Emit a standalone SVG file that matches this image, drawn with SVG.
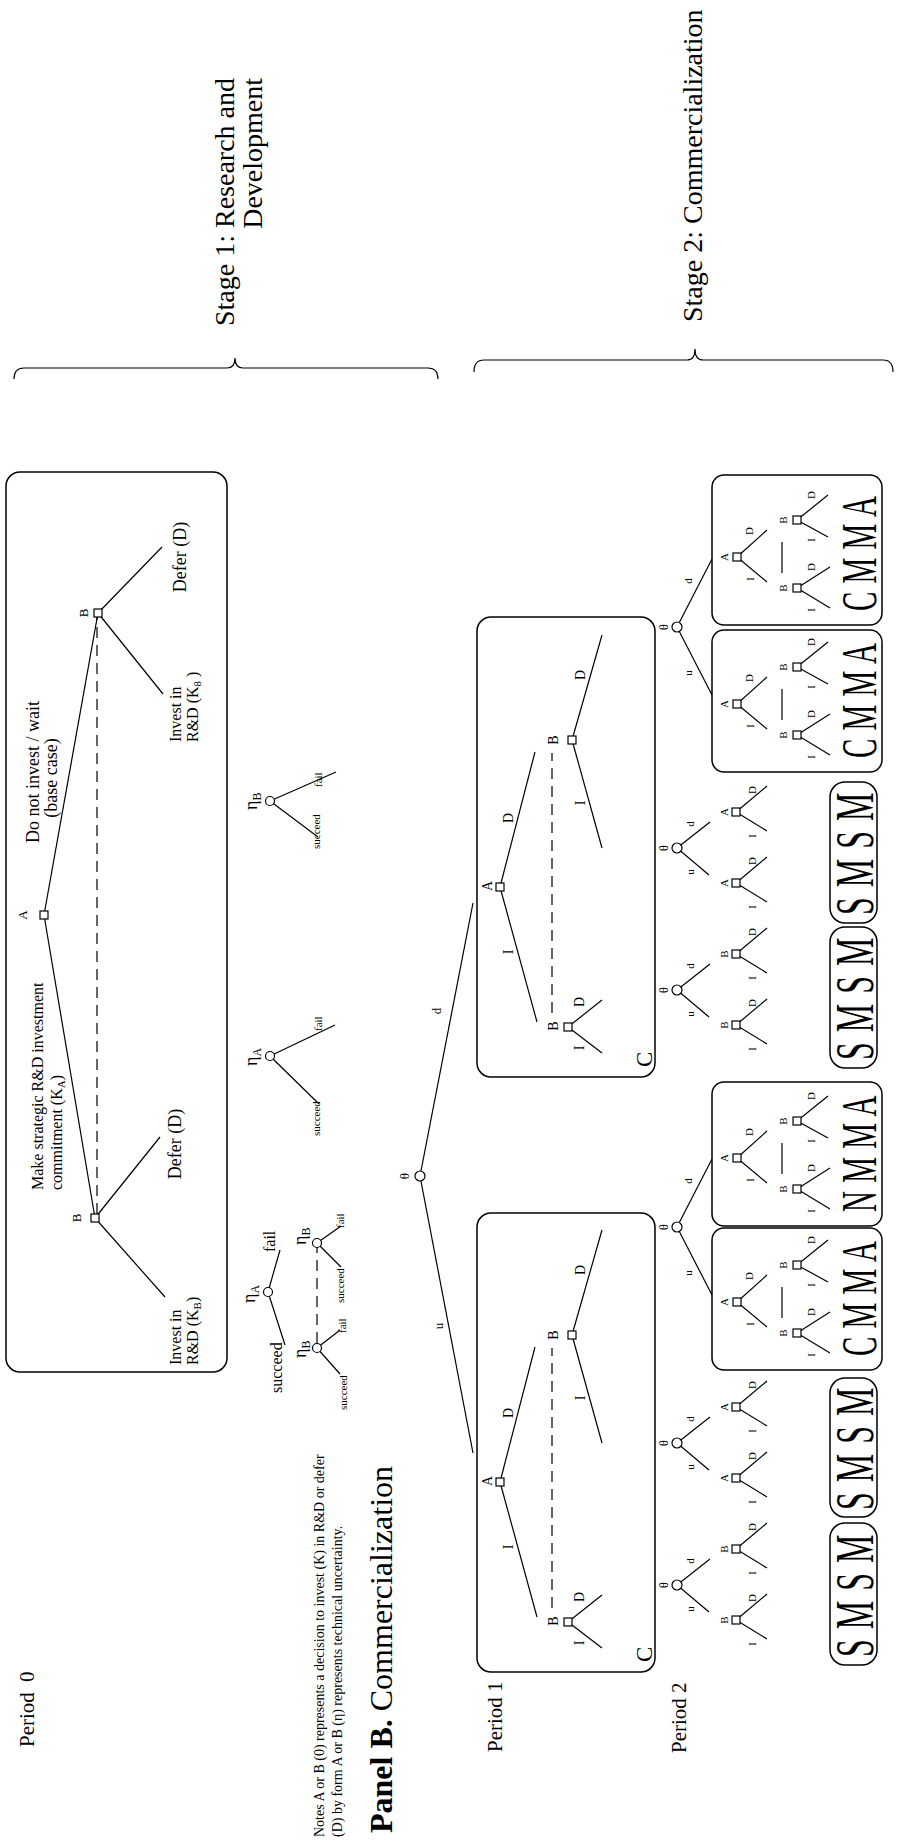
<svg xmlns="http://www.w3.org/2000/svg" width="897" height="1848" viewBox="0 0 897 1848">
<style>
text{font-family:"Liberation Serif","Times New Roman",serif;fill:#000}
.ln{stroke:#000;stroke-width:1.2;fill:none}
.dsh{stroke:#000;stroke-width:1.2;stroke-dasharray:11 7;fill:none}
.box{fill:none;stroke:#000;stroke-width:1.5}
.nd{fill:#fff;stroke:#000;stroke-width:1.2}
.m{text-anchor:middle}
.t11{font-size:11px}
.t12{font-size:12px}
.t13{font-size:13px}
.t14{font-size:14px}
.t16{font-size:16px}
.t18{font-size:18px}
.big{font-size:29px;letter-spacing:0.5px}
.sms{font-size:32px;letter-spacing:1px}
</style>
<defs>
<rect id="sq" x="-4" y="-4" width="8" height="8" class="nd"/>
<circle id="ci" r="4.5" class="nd"/>
<circle id="cs" r="5" class="nd"/>
</defs>
<rect width="897" height="1848" fill="#fff"/>
<g transform="translate(0,1848) rotate(-90)">

<g id="headers">
<text x="1770" y="234" font-size="28" text-anchor="end">Stage 1: Research and</text>
<text x="1770" y="262" font-size="28" text-anchor="end">Development</text>
<text x="1526" y="702" font-size="28">Stage 2: Commercialization</text>
<path class="ln" d="M1469,14 Q1480,14 1480,24 L1480,227 Q1480,235 1490,235 Q1480,235 1480,243 L1480,428 Q1480,438 1469,438"/>
<path class="ln" d="M1476,474 Q1488,474 1488,484 L1488,687 Q1488,695 1499,695 Q1488,695 1488,703 L1488,883 Q1488,893 1476,893"/>
<text x="101" y="34" font-size="21">Period <tspan dx="5">0</tspan></text>
<text x="96" y="502" font-size="21">Period 1</text>
<text x="95" y="686" font-size="21">Period 2</text>
<text x="11" y="324" class="t14">Notes A or B (0) represents a decision to invest (K) in R&amp;D or defer</text>
<text x="11" y="342" class="t14">(D) by form A or B (η) represents technical uncertainty.</text>
<text x="15" y="392" font-size="32"><tspan font-weight="bold">Panel B.</tspan> Commercialization</text>
</g>

<g id="connectors">
<line class="ln" x1="933" y1="44" x2="1235" y2="98"/>
<line class="ln" x1="933" y1="44" x2="630" y2="95"/>
<line class="ln" x1="1235" y1="98" x2="1301" y2="162"/>
<line class="ln" x1="1235" y1="98" x2="1154" y2="163"/>
<line class="ln" x1="630" y1="95" x2="711" y2="160"/>
<line class="ln" x1="630" y1="95" x2="551" y2="165"/>
<line class="dsh" x1="634" y1="97" x2="1231" y2="97"/>

<line class="ln" x1="556" y1="268" x2="503" y2="285"/>
<line class="ln" x1="556" y1="268" x2="598" y2="280"/>
<line class="ln" x1="500" y1="317" x2="474" y2="340"/>
<line class="ln" x1="500" y1="317" x2="518" y2="340"/>
<line class="ln" x1="605" y1="317" x2="581" y2="341"/>
<line class="ln" x1="605" y1="317" x2="622" y2="341"/>
<line class="dsh" x1="505" y1="317" x2="600" y2="317"/>
<line class="ln" x1="792" y1="270" x2="744" y2="319"/>
<line class="ln" x1="792" y1="270" x2="823" y2="335"/>
<line class="ln" x1="1047" y1="270" x2="1011" y2="318"/>
<line class="ln" x1="1047" y1="270" x2="1076" y2="336"/>

<line class="ln" x1="672" y1="420" x2="395" y2="473"/>
<line class="ln" x1="672" y1="420" x2="945" y2="473"/>

<line class="ln" x1="366" y1="500" x2="231" y2="537"/>
<line class="ln" x1="366" y1="500" x2="501" y2="535"/>
<line class="ln" x1="513" y1="572" x2="618" y2="602"/>
<line class="ln" x1="513" y1="572" x2="405" y2="602"/>
<line class="ln" x1="226" y1="568" x2="253" y2="602"/>
<line class="ln" x1="226" y1="568" x2="200" y2="602"/>
<line class="dsh" x1="240" y1="552" x2="500" y2="552"/>
<line class="ln" x1="961" y1="500" x2="826" y2="537"/>
<line class="ln" x1="961" y1="500" x2="1096" y2="535"/>
<line class="ln" x1="1108" y1="572" x2="1213" y2="602"/>
<line class="ln" x1="1108" y1="572" x2="1000" y2="602"/>
<line class="ln" x1="821" y1="568" x2="848" y2="602"/>
<line class="ln" x1="821" y1="568" x2="795" y2="602"/>
<line class="dsh" x1="835" y1="552" x2="1095" y2="552"/>

<line class="ln" x1="263" y1="677" x2="236" y2="709"/>
<line class="ln" x1="263" y1="677" x2="289" y2="710"/>
<line class="ln" x1="228" y1="736" x2="209" y2="767"/>
<line class="ln" x1="228" y1="736" x2="254" y2="767"/>
<line class="ln" x1="299" y1="736" x2="280" y2="767"/>
<line class="ln" x1="299" y1="736" x2="325" y2="767"/>
<line class="ln" x1="405" y1="677" x2="378" y2="709"/>
<line class="ln" x1="405" y1="677" x2="431" y2="710"/>
<line class="ln" x1="370" y1="736" x2="351" y2="767"/>
<line class="ln" x1="370" y1="736" x2="396" y2="767"/>
<line class="ln" x1="441" y1="736" x2="422" y2="767"/>
<line class="ln" x1="441" y1="736" x2="467" y2="767"/>
<line class="ln" x1="858" y1="677" x2="831" y2="709"/>
<line class="ln" x1="858" y1="677" x2="884" y2="710"/>
<line class="ln" x1="823" y1="736" x2="804" y2="767"/>
<line class="ln" x1="823" y1="736" x2="849" y2="767"/>
<line class="ln" x1="894" y1="736" x2="875" y2="767"/>
<line class="ln" x1="894" y1="736" x2="920" y2="767"/>
<line class="ln" x1="1000" y1="677" x2="973" y2="709"/>
<line class="ln" x1="1000" y1="677" x2="1026" y2="710"/>
<line class="ln" x1="965" y1="736" x2="946" y2="767"/>
<line class="ln" x1="965" y1="736" x2="991" y2="767"/>
<line class="ln" x1="1036" y1="736" x2="1017" y2="767"/>
<line class="ln" x1="1036" y1="736" x2="1062" y2="767"/>

<line class="ln" x1="621" y1="677" x2="553" y2="712"/>
<line class="ln" x1="621" y1="677" x2="689" y2="712"/>
<line class="ln" x1="1221" y1="677" x2="1153" y2="712"/>
<line class="ln" x1="1221" y1="677" x2="1289" y2="712"/>

<line class="ln" x1="546" y1="737" x2="521" y2="767"/>
<line class="ln" x1="546" y1="737" x2="573" y2="767"/>
<line class="ln" x1="515" y1="797" x2="495" y2="830"/>
<line class="ln" x1="515" y1="797" x2="536" y2="830"/>
<line class="ln" x1="583" y1="797" x2="566" y2="828"/>
<line class="ln" x1="583" y1="797" x2="608" y2="828"/>
<line class="ln" x1="530" y1="782" x2="561" y2="782"/>

<line class="ln" x1="690" y1="737" x2="665" y2="767"/>
<line class="ln" x1="690" y1="737" x2="717" y2="767"/>
<line class="ln" x1="659" y1="797" x2="639" y2="830"/>
<line class="ln" x1="659" y1="797" x2="680" y2="830"/>
<line class="ln" x1="727" y1="797" x2="710" y2="828"/>
<line class="ln" x1="727" y1="797" x2="752" y2="828"/>
<line class="ln" x1="674" y1="782" x2="705" y2="782"/>

<line class="ln" x1="1144" y1="737" x2="1119" y2="767"/>
<line class="ln" x1="1144" y1="737" x2="1171" y2="767"/>
<line class="ln" x1="1113" y1="797" x2="1093" y2="830"/>
<line class="ln" x1="1113" y1="797" x2="1134" y2="830"/>
<line class="ln" x1="1181" y1="797" x2="1164" y2="828"/>
<line class="ln" x1="1181" y1="797" x2="1206" y2="828"/>
<line class="ln" x1="1128" y1="782" x2="1159" y2="782"/>

<line class="ln" x1="1291" y1="737" x2="1266" y2="767"/>
<line class="ln" x1="1291" y1="737" x2="1318" y2="767"/>
<line class="ln" x1="1260" y1="797" x2="1240" y2="830"/>
<line class="ln" x1="1260" y1="797" x2="1281" y2="830"/>
<line class="ln" x1="1328" y1="797" x2="1311" y2="828"/>
<line class="ln" x1="1328" y1="797" x2="1353" y2="828"/>
<line class="ln" x1="1275" y1="782" x2="1306" y2="782"/>
</g>

<g id="panelA">
<rect class="box" x="476" y="6" width="900" height="221" rx="14"/>
<use href="#sq" x="933" y="44"/><text class="t13 m" x="933" y="27">A</text>
<use href="#sq" x="1235" y="98"/><text class="t13 m" x="1235" y="88">B</text>
<use href="#sq" x="630" y="95"/><text class="t13 m" x="630" y="81">B</text>
<text class="t16" x="658" y="43">Make strategic R&amp;D investment</text>
<text class="t16" x="658" y="62">commitment (K<tspan font-size="11" dy="3">A</tspan><tspan dy="-3">)</tspan></text>
<text class="t18 m" x="1076" y="39">Do not invest / wait</text>
<text class="t18 m" x="1070" y="57">(base case)</text>
<text class="t18 m" x="1291" y="186">Defer (D)</text>
<text class="t16" x="1106" y="181">Invest in</text>
<text class="t16" x="1106" y="198">R&amp;D (K<tspan font-size="11" dy="3">8</tspan><tspan dy="-3"> )</tspan></text>
<text class="t18 m" x="704" y="181">Defer (D)</text>
<text class="t16" x="483" y="181">Invest in</text>
<text class="t16" x="483" y="198">R&amp;D (K<tspan font-size="11" dy="3">B</tspan><tspan dy="-3">)</tspan></text>
</g>

<g id="eta-1">
<use href="#ci" x="556" y="268"/>
<text class="t18" x="545" y="255">η<tspan font-size="12" dy="4">A</tspan></text>
<text class="t16" x="455" y="282">succeed</text>
<text class="t16" x="596" y="275">fail</text>
<use href="#ci" x="500" y="317"/>
<text class="t18" x="490" y="306">η<tspan font-size="12" dy="4">B</tspan></text>
<text class="t11" x="438" y="347">succeed</text>
<text class="t11" x="515" y="346">fail</text>
<use href="#ci" x="605" y="317"/>
<text class="t18" x="603" y="306">η<tspan font-size="12" dy="4">B</tspan></text>
<text class="t11" x="545" y="344">succeed</text>
<text class="t11" x="620" y="344">fail</text>
</g>
<g id="eta-2">
<use href="#ci" x="792" y="270"/>
<text class="t18" x="782" y="257">η<tspan font-size="12" dy="4">A</tspan></text>
<text class="t11" x="712" y="320">succeed</text>
<text class="t11" x="817" y="322">fail</text>
</g>
<g id="eta-3">
<use href="#ci" x="1047" y="270"/>
<text class="t18" x="1038" y="257">η<tspan font-size="12" dy="4">B</tspan></text>
<text class="t11" x="999" y="320">succeed</text>
<text class="t11" x="1061" y="322">fail</text>
</g>

<g id="theta-root">
<use href="#cs" x="672" y="420"/>
<text class="t13 m" x="672" y="409">θ</text>
<text class="t13 m" x="522" y="443">u</text>
<text class="t13 m" x="837" y="441">d</text>
</g>

<g id="period1-left">
<rect class="box" x="176" y="477" width="459" height="178" rx="14"/>
<use href="#sq" x="366" y="500"/><text class="t14 m" x="367" y="492">A</text>
<text class="t14 m" x="301" y="513">I</text><text class="t14 m" x="435" y="513">D</text>
<use href="#sq" x="513" y="572"/><text class="t14 m" x="513" y="558">B</text>
<text class="t14 m" x="450" y="585">I</text><text class="t14 m" x="578" y="585">D</text>
<use href="#sq" x="226" y="568"/><text class="t14 m" x="227" y="558">B</text>
<text class="t14 m" x="205" y="584">I</text><text class="t14 m" x="251" y="584">D</text>
<text x="186" y="652" font-size="23">C</text>
</g>
<g id="period1-right">
<rect class="box" x="771" y="477" width="460" height="178" rx="14"/>
<use href="#sq" x="961" y="500"/><text class="t14 m" x="962" y="492">A</text>
<text class="t14 m" x="896" y="513">I</text><text class="t14 m" x="1030" y="513">D</text>
<use href="#sq" x="1108" y="572"/><text class="t14 m" x="1108" y="558">B</text>
<text class="t14 m" x="1045" y="585">I</text><text class="t14 m" x="1173" y="585">D</text>
<use href="#sq" x="821" y="568"/><text class="t14 m" x="822" y="558">B</text>
<text class="t14 m" x="800" y="584">I</text><text class="t14 m" x="846" y="584">D</text>
<text x="781" y="652" font-size="23">C</text>
</g>

<g id="p2-theta-a">
<use href="#cs" x="263" y="677"/><text class="t12 m" x="263" y="668">θ</text>
<text class="t11 m" x="239" y="694">u</text><text class="t11 m" x="287" y="694">d</text>
<use href="#sq" x="228" y="736"/><text class="t11 m" x="228" y="728">B</text>
<text class="t11 m" x="204" y="756">I</text><text class="t11 m" x="250" y="756">D</text>
<use href="#sq" x="299" y="736"/><text class="t11 m" x="299" y="728">B</text>
<text class="t11 m" x="275" y="756">I</text><text class="t11 m" x="321" y="756">D</text>
</g>
<g id="p2-theta-b">
<use href="#cs" x="405" y="677"/><text class="t12 m" x="405" y="668">θ</text>
<text class="t11 m" x="381" y="694">u</text><text class="t11 m" x="429" y="694">d</text>
<use href="#sq" x="370" y="736"/><text class="t11 m" x="370" y="728">A</text>
<text class="t11 m" x="346" y="756">I</text><text class="t11 m" x="392" y="756">D</text>
<use href="#sq" x="441" y="736"/><text class="t11 m" x="441" y="728">A</text>
<text class="t11 m" x="417" y="756">I</text><text class="t11 m" x="463" y="756">D</text>
</g>
<g id="p2-theta-d">
<use href="#cs" x="858" y="677"/><text class="t12 m" x="858" y="668">θ</text>
<text class="t11 m" x="834" y="694">u</text><text class="t11 m" x="882" y="694">d</text>
<use href="#sq" x="823" y="736"/><text class="t11 m" x="823" y="728">B</text>
<text class="t11 m" x="799" y="756">I</text><text class="t11 m" x="845" y="756">D</text>
<use href="#sq" x="894" y="736"/><text class="t11 m" x="894" y="728">B</text>
<text class="t11 m" x="870" y="756">I</text><text class="t11 m" x="916" y="756">D</text>
</g>
<g id="p2-theta-e">
<use href="#cs" x="1000" y="677"/><text class="t12 m" x="1000" y="668">θ</text>
<text class="t11 m" x="976" y="694">u</text><text class="t11 m" x="1024" y="694">d</text>
<use href="#sq" x="965" y="736"/><text class="t11 m" x="965" y="728">A</text>
<text class="t11 m" x="941" y="756">I</text><text class="t11 m" x="987" y="756">D</text>
<use href="#sq" x="1036" y="736"/><text class="t11 m" x="1036" y="728">A</text>
<text class="t11 m" x="1012" y="756">I</text><text class="t11 m" x="1058" y="756">D</text>
</g>
<g id="p2-theta-c">
<use href="#cs" x="621" y="677"/><text class="t12 m" x="621" y="668">θ</text>
<text class="t11 m" x="575" y="692">u</text><text class="t11 m" x="667" y="692">d</text>
</g>
<g id="p2-theta-f">
<use href="#cs" x="1221" y="677"/><text class="t12 m" x="1221" y="668">θ</text>
<text class="t11 m" x="1175" y="692">u</text><text class="t11 m" x="1267" y="692">d</text>
</g>

<g id="sms-1"><rect class="box" x="183" y="830" width="142" height="47" rx="15"/>
<text class="sms" transform="translate(191,873) scale(1,1.7)">S M S M</text></g>
<g id="sms-2"><rect class="box" x="331" y="830" width="139" height="47" rx="15"/>
<text class="sms" transform="translate(338,873) scale(1,1.7)">S M S M</text></g>
<g id="sms-3"><rect class="box" x="780" y="830" width="141" height="47" rx="15"/>
<text class="sms" transform="translate(788,873) scale(1,1.7)">S M S M</text></g>
<g id="sms-4"><rect class="box" x="925" y="830" width="141" height="47" rx="15"/>
<text class="sms" transform="translate(933,873) scale(1,1.7)">S M S M</text></g>

<g id="box-cmma-1">
<rect class="box" x="478" y="712" width="142" height="170" rx="12"/>
<use href="#sq" x="546" y="737"/><text class="t11 m" x="546" y="728">A</text>
<text class="t11 m" x="524" y="754">I</text><text class="t11 m" x="572" y="753">D</text>
<use href="#sq" x="515" y="797"/><text class="t11 m" x="515" y="787">B</text>
<text class="t11 m" x="493" y="815">I</text><text class="t11 m" x="536" y="815">D</text>
<use href="#sq" x="583" y="797"/><text class="t11 m" x="583" y="787">B</text>
<text class="t11 m" x="563" y="815">I</text><text class="t11 m" x="608" y="815">D</text>
<text class="big" transform="translate(492,876) scale(1,1.72)">C M M A</text>
</g>
<g id="box-nmma">
<rect class="box" x="622" y="712" width="144" height="170" rx="12"/>
<use href="#sq" x="690" y="737"/><text class="t11 m" x="690" y="728">A</text>
<text class="t11 m" x="668" y="754">I</text><text class="t11 m" x="716" y="753">D</text>
<use href="#sq" x="659" y="797"/><text class="t11 m" x="659" y="787">B</text>
<text class="t11 m" x="637" y="815">I</text><text class="t11 m" x="680" y="815">D</text>
<use href="#sq" x="727" y="797"/><text class="t11 m" x="727" y="787">B</text>
<text class="t11 m" x="707" y="815">I</text><text class="t11 m" x="752" y="815">D</text>
<text class="big" transform="translate(636,876) scale(1,1.72)">N M M A</text>
</g>
<g id="box-cmma-2">
<rect class="box" x="1076" y="712" width="142" height="170" rx="12"/>
<use href="#sq" x="1144" y="737"/><text class="t11 m" x="1144" y="728">A</text>
<text class="t11 m" x="1122" y="754">I</text><text class="t11 m" x="1170" y="753">D</text>
<use href="#sq" x="1113" y="797"/><text class="t11 m" x="1113" y="787">B</text>
<text class="t11 m" x="1091" y="815">I</text><text class="t11 m" x="1134" y="815">D</text>
<use href="#sq" x="1181" y="797"/><text class="t11 m" x="1181" y="787">B</text>
<text class="t11 m" x="1161" y="815">I</text><text class="t11 m" x="1206" y="815">D</text>
<text class="big" transform="translate(1090,876) scale(1,1.72)">C M M A</text>
</g>
<g id="box-cmma-3">
<rect class="box" x="1223" y="712" width="150" height="170" rx="12"/>
<use href="#sq" x="1291" y="737"/><text class="t11 m" x="1291" y="728">A</text>
<text class="t11 m" x="1269" y="754">I</text><text class="t11 m" x="1317" y="753">D</text>
<use href="#sq" x="1260" y="797"/><text class="t11 m" x="1260" y="787">B</text>
<text class="t11 m" x="1238" y="815">I</text><text class="t11 m" x="1281" y="815">D</text>
<use href="#sq" x="1328" y="797"/><text class="t11 m" x="1328" y="787">B</text>
<text class="t11 m" x="1308" y="815">I</text><text class="t11 m" x="1353" y="815">D</text>
<text class="big" transform="translate(1237,876) scale(1,1.72)">C M M A</text>
</g>

</g>
</svg>
